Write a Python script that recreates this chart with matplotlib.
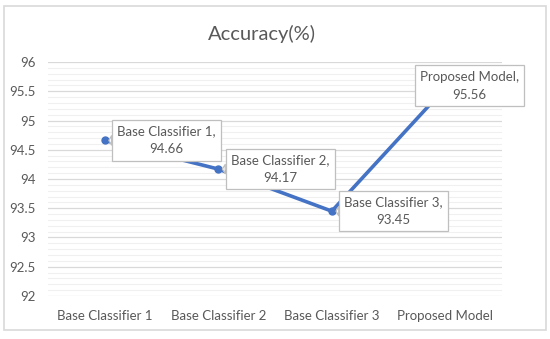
import matplotlib.pyplot as plt
from matplotlib.patches import Rectangle
from matplotlib.ticker import MultipleLocator

categories = ["Base Classifier 1", "Base Classifier 2", "Base Classifier 3", "Proposed Model"]
accuracy = [94.66, 94.17, 93.45, 95.56]
y_ticks = [92, 92.5, 93, 93.5, 94, 94.5, 95, 95.5, 96]
y_tick_labels = ["92", "92.5", "93", "93.5", "94", "94.5", "95", "95.5", "96"]

# label box offsets from the point (pixels)
label_offsets = [(62, 0), (62, 0), (62, 0), (24, 2)]

plt.rcParams['font.family'] = ['Lato', 'DejaVu Sans']
text_grey = '#595959'
line_blue = '#4472C4'

fig = plt.figure(figsize=(5.5, 3.39), dpi=100)
fig.patches.append(Rectangle((4 / 550, 1 - 330 / 339), 542 / 550, 324 / 339,
                             transform=fig.transFigure, fill=False,
                             edgecolor='#d9d9d9', lw=1.2))

ax = fig.add_axes([0.087, 0.127, 0.826, 0.69])
x = list(range(len(categories)))
ax.plot(x, accuracy, color=line_blue, lw=2.6, marker='o', markersize=5,
        solid_capstyle='round', zorder=3)

ax.set_xlim(-0.5, len(categories) - 0.5)
ax.set_ylim(92, 96)
ax.set_yticks(y_ticks)
ax.set_yticklabels(y_tick_labels)
ax.yaxis.set_minor_locator(MultipleLocator(0.1))
ax.set_xticks(x)
ax.set_xticklabels(categories)
ax.tick_params(axis='both', which='both', length=0, colors=text_grey, labelsize=9.5)
ax.tick_params(axis='x', pad=10)
ax.tick_params(axis='y', pad=9)
ax.grid(axis='y', which='major', color='#d9d9d9', lw=0.9)
ax.grid(axis='y', which='minor', color='#f0f0f0', lw=0.8)
ax.set_axisbelow(True)
for s in ax.spines.values():
    s.set_visible(False)

for xi, val, cat, off in zip(x, accuracy, categories, label_offsets):
    ax.annotate(f"{cat},\n{val:.2f}", xy=(xi, val), xytext=off,
                textcoords='offset pixels', ha='center', va='center',
                fontsize=9.5, color=text_grey, linespacing=1.6, zorder=5,
                bbox=dict(boxstyle='square,pad=0.4', fc='white', ec='#bfbfbf', lw=0.9),
                arrowprops=dict(arrowstyle='wedge,tail_width=0.7', fc='white',
                                ec='#bfbfbf', lw=0.9, shrinkA=0, shrinkB=3))

fig.text(0.477, 0.9, "Accuracy(%)", ha='center', va='center', fontsize=14.5, color=text_grey)

fig.savefig('out.png', dpi=100)
